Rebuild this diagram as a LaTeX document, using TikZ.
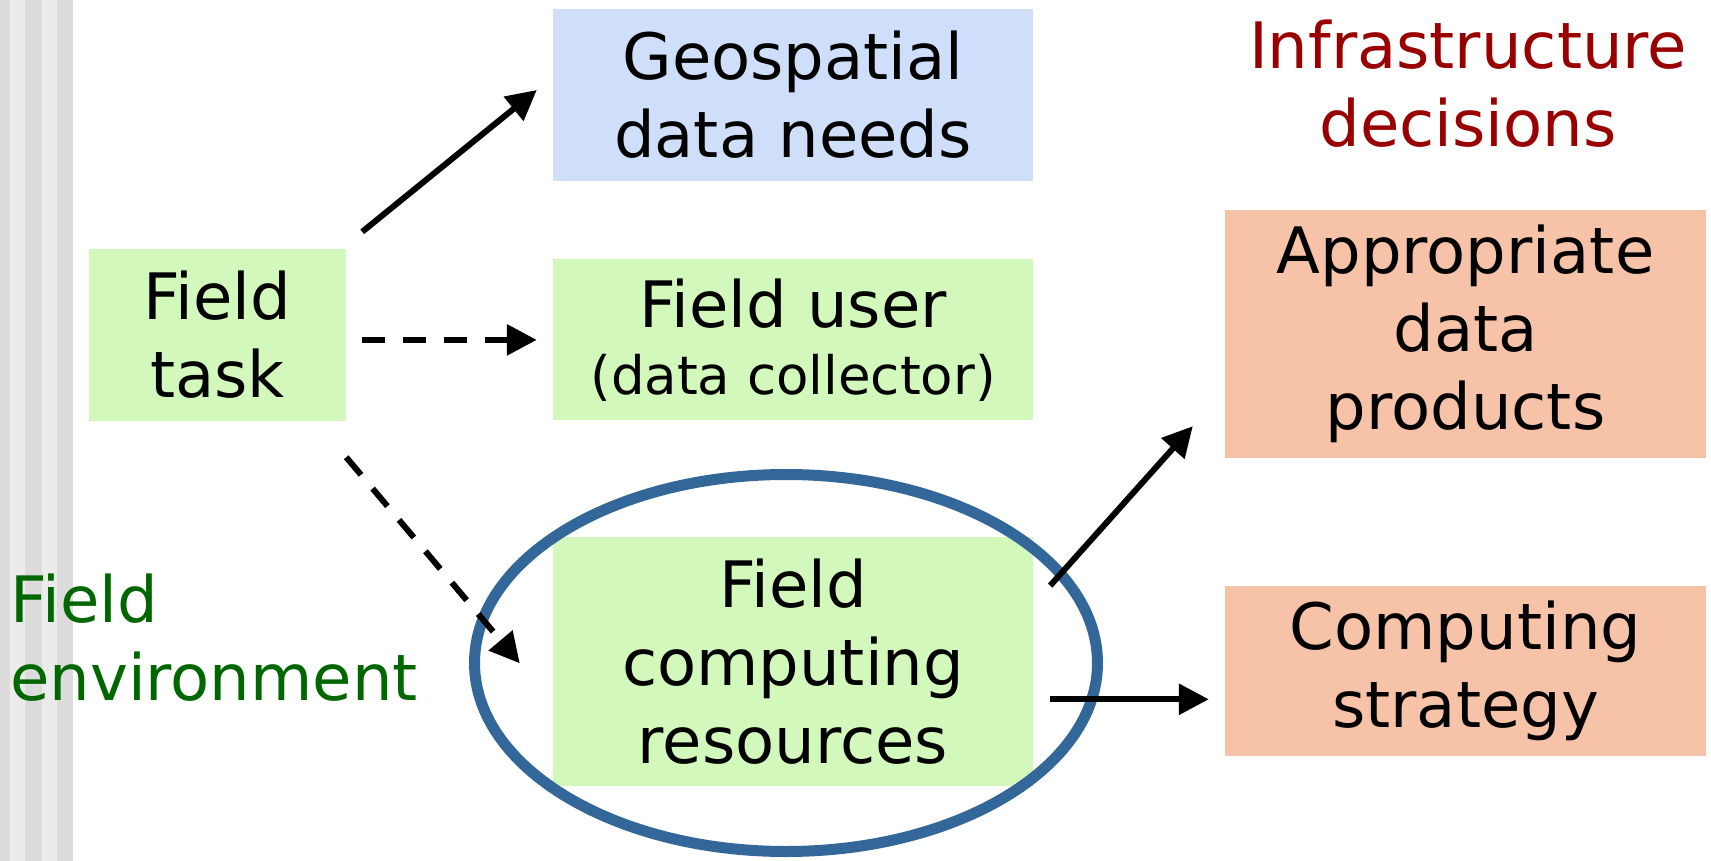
\documentclass[tikz,border=0pt]{standalone}
\usepackage{fontspec}
\setmainfont{DejaVu Sans}
\usepackage{tikz}
\usetikzlibrary{positioning, calc, arrows.meta}
\definecolor{taskgreen}{RGB}{210,248,188}
\definecolor{needblue}{RGB}{207,223,250}
\definecolor{decsalmon}{RGB}{246,194,168}
\definecolor{ringblue}{RGB}{51,102,153}
\definecolor{infrared}{RGB}{153,0,0}
\definecolor{envgreen}{RGB}{0,102,0}
\definecolor{stripedark}{RGB}{220,220,220}
\definecolor{stripelight}{RGB}{235,235,235}
\tikzset{>={Triangle[length=30pt, width=30pt]}}
\tikzset{box/.style={inner sep=0pt, align=center, font=\fontsize{64}{78}\selectfont}}
\tikzset{field box/.style={box, fill=taskgreen}}
\tikzset{need box/.style={box, fill=needblue}}
\tikzset{decision box/.style={box, fill=decsalmon, minimum width=481pt}}
\tikzset{link/.style={->, line width=6pt}}
\tikzset{dashed link/.style={link, dash pattern=on 23pt off 18pt}}
\tikzset{ring/.style={draw=ringblue, line width=11pt}}

\begin{document}
\begin{tikzpicture}[x=1pt, y=-1pt]
    \useasboundingbox (0,0) rectangle (1711,861);
    % side stripes
    \fill[stripedark] (0,0) rectangle (73,861);
    \fill[stripelight] (10,0) rectangle (25,861);
    \fill[stripelight] (42,0) rectangle (57,861);

    \node[need box, minimum width=480pt, minimum height=172pt] (geo) at (793,95) {Geospatial\\data needs};
    \node[field box, minimum width=480pt, minimum height=161pt, below=78pt of geo]
    (user) {Field user\\[-11pt]{\fontsize{53}{64}\selectfont (data collector)}};
    \node[field box, minimum width=480pt, minimum height=249pt, below=116pt of user]
    (comp) {Field\\computing\\resources};
    \node[field box, minimum width=257pt, minimum height=172pt] (task) at (217.5,335) {Field\\task};

    \node[decision box, minimum height=248pt] (prod) at (1465.5,334) {Appropriate\\data\\products};
    \node[decision box, minimum height=170pt] (strat) at (1465.5,671) {Computing\\strategy};

    \node[box, text=infrared] (infra) at (1468,84) {Infrastructure\\decisions};
    \node[box, text=envgreen, align=left, anchor=west] (env) at (10,638) {Field\\environment};

    \draw[ring] (786,663) ellipse [x radius=311.5pt, y radius=188.5pt];

    \draw[link] ([xshift=16pt, yshift=17pt]task.north east) to ([xshift=-16pt, yshift=5pt]geo.west);
    \draw[dashed link] ([xshift=16pt]task.east |- user.west) to ([xshift=-16pt]user.west);
    \draw[dashed link] ([yshift=-36pt]task.south east) to ([xshift=-33pt, yshift=-2pt]comp.west);

    \coordinate (out) at ([xshift=17pt, yshift=-38pt]comp.east);
    \draw[link] ([xshift=17pt, yshift=-49pt]comp.north east) to ([xshift=-32pt, yshift=32pt]prod.south west);
    \draw[link] (out) to ([xshift=-16pt]strat.west |- out);
\end{tikzpicture}
\end{document}
